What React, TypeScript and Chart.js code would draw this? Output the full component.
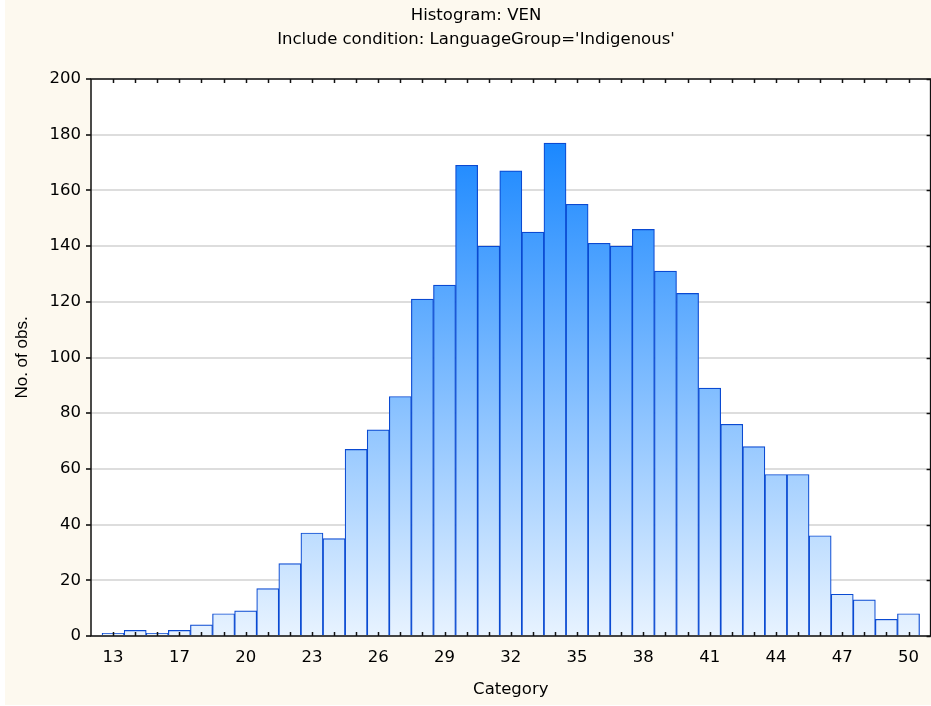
import React, { useEffect, useRef } from 'react';
import { Chart, registerables } from 'chart.js';

Chart.register(...registerables);

// ---- data ----
const tickLabels = ['13', '17', '20', '23', '26', '29', '32', '35', '38', '41', '44', '47', '50'];
const counts = [
  1, 2, 1, 2, 4, 8, 9, 17, 26, 37, 35, 67, 74, 86, 121, 126, 169, 140, 167, 145,
  177, 155, 141, 140, 146, 131, 123, 89, 76, 68, 58, 58, 36, 15, 13, 6, 8,
];
const yMin = 0;
const yMax = 200;
const yStep = 20;
const titleLines = ['Histogram: VEN', "Include condition: LanguageGroup='Indigenous'"];
const xTitle = 'Category';
const yTitle = 'No. of obs.';

const FONT = "'DejaVu Sans', Verdana, sans-serif";
const FONT_Y = "'Liberation Sans', Arial, sans-serif";
const FS = 16.5;

const bgPlugin = {
  id: 'bgPlugin',
  afterLayout(chart: any) {
    const tb = chart.titleBlock;
    if (tb) {
      tb.left += 8;
      tb.right += 8;
    }
  },
  beforeDraw(chart: any) {
    const { ctx, width, height, chartArea } = chart;
    ctx.save();
    ctx.fillStyle = '#ffffff';
    ctx.fillRect(0, 0, width, height);
    ctx.fillStyle = '#fdf9ef';
    ctx.fillRect(5, 0, width - 5, height - 1);
    if (chartArea) {
      ctx.fillStyle = '#ffffff';
      ctx.fillRect(chartArea.left, chartArea.top, chartArea.right - chartArea.left, chartArea.bottom - chartArea.top);
    }
    ctx.restore();
  },
};

const framePlugin = {
  id: 'framePlugin',
  afterDatasetsDraw(chart: any) {
    const { ctx, chartArea, scales } = chart;
    const xs = scales.x;
    const ys = scales.y;
    const { left, right, top, bottom } = chartArea;
    ctx.save();
    ctx.strokeStyle = '#111';
    ctx.lineWidth = 1.5;
    ctx.beginPath();
    ctx.moveTo(left, top);
    ctx.lineTo(right, top);
    ctx.lineTo(right, bottom);
    ctx.lineTo(left, bottom);
    ctx.closePath();
    ctx.stroke();
    counts.forEach((_, i) => {
      const px = Math.round(xs.getPixelForValue(i)) + 0.5;
      ctx.beginPath();
      ctx.moveTo(px, bottom);
      ctx.lineTo(px, bottom - 4);
      ctx.moveTo(px, top);
      ctx.lineTo(px, top + 4);
      ctx.stroke();
    });
    ys.ticks.forEach((t: any) => {
      const py = Math.round(ys.getPixelForValue(t.value)) + 0.5;
      ctx.beginPath();
      ctx.moveTo(right, py);
      ctx.lineTo(right - 4, py);
      ctx.stroke();
    });
    ctx.restore();
  },
};

export default function App() {
  const ref = useRef<HTMLCanvasElement | null>(null);

  useEffect(() => {
    if (!ref.current) return;
    const chart = new Chart(ref.current, {
      type: 'bar',
      data: {
        datasets: [
          {
            label: 'No. of obs.',
            data: counts.map((c, i) => ({ x: i, y: c })),
            backgroundColor: (c: any) => {
              const area = c.chart.chartArea;
              if (!area) return '#9fcfff';
              const g = c.chart.ctx.createLinearGradient(0, area.bottom, 0, area.top);
              g.addColorStop(0, 'rgb(232,243,255)');
              g.addColorStop(1, 'rgb(0,122,255)');
              return g;
            },
            borderColor: '#0a4ad2',
            borderWidth: 1.2,
            barPercentage: 1,
            categoryPercentage: 1,
          } as any,
        ],
      },
      options: {
        animation: false,
        responsive: false,
        maintainAspectRatio: false,
        layout: { padding: { left: 5, right: 0, top: 0, bottom: 1 } },
        plugins: {
          legend: { display: false },
          tooltip: { enabled: false },
          title: {
            display: true,
            text: titleLines,
            color: '#000',
            font: { family: FONT, size: FS, weight: 'normal', lineHeight: '24px' } as any,
            padding: { top: 4, bottom: 27 },
          },
        },
        scales: {
          x: {
            type: 'linear',
            min: -1,
            max: counts.length,
            offset: false,
            afterBuildTicks: (s: any) => {
              s.ticks = counts.map((_, i) => ({ value: i }));
            },
            afterFit: (s: any) => {
              s.height = 69;
            },
            grid: { display: false, drawTicks: false },
            border: { display: false },
            ticks: {
              autoSkip: false,
              maxRotation: 0,
              minRotation: 0,
              padding: 12,
              color: '#000',
              font: { family: FONT, size: FS },
              callback: (v: any) => (Number(v) % 3 === 0 ? tickLabels[Number(v) / 3] : ''),
            },
            title: {
              display: true,
              text: xTitle,
              color: '#000',
              font: { family: FONT, size: FS },
              padding: { top: 0, bottom: 5 },
            },
          },
          y: {
            min: yMin,
            max: yMax,
            afterFit: (s: any) => {
              s.width = 86;
            },
            grid: { color: '#dddddd', lineWidth: 2, tickColor: '#000', tickLength: 5, tickWidth: 1.5 } as any,
            border: { display: false },
            ticks: {
              stepSize: yStep,
              padding: 5,
              color: '#000',
              font: { family: FONT, size: FS },
            },
            title: {
              display: true,
              text: yTitle,
              color: '#000',
              font: { family: FONT_Y, size: 17 },
              padding: { top: 7, bottom: 0 },
            },
          },
        },
      },
      plugins: [bgPlugin, framePlugin],
    });
    return () => chart.destroy();
  }, []);

  return (
    <div style={{ position: 'fixed', left: 0, top: 0, width: 931, height: 706, overflow: 'hidden', background: '#fff' }}>
      <canvas ref={ref} width={931} height={706} style={{ display: 'block', width: 931, height: 706 }} />
    </div>
  );
}
